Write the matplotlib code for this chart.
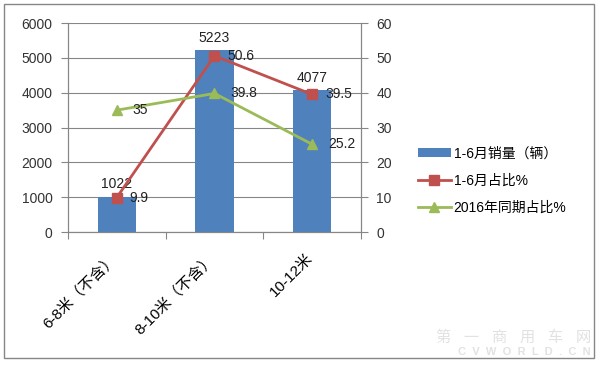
import matplotlib
matplotlib.use("Agg")
import matplotlib.pyplot as plt
import numpy as np
from matplotlib.patches import Rectangle
from matplotlib.transforms import ScaledTranslation

plt.rcParams['font.family'] = ['Liberation Sans', 'Noto Sans CJK SC', 'DejaVu Sans']

categories = ["6-8米（不含）", "8-10米（不含）", "10-12米"]
sales = [1022, 5223, 4077]
share = [9.9, 50.6, 39.5]
share_2016 = [35, 39.8, 25.2]
series_names = ["1-6月销量（辆）", "1-6月占比%", "2016年同期占比%"]

blue = "#4F81BD"
red = "#C0504D"
green = "#9BBB59"
gray = "#868686"

fig = plt.figure(figsize=(6, 3.72), dpi=100)
ax = fig.add_axes([0.113, 0.376, 0.489, 0.562])
ax2 = ax.twinx()

x = np.arange(len(categories))
bars = ax.bar(x, sales, width=0.39, color=blue, label=series_names[0], zorder=2)
ax.set_xlim(-0.5, len(categories) - 0.5)
ax.set_ylim(0, 6000)
ax.set_yticks(np.arange(0, 6001, 1000))
ax.yaxis.grid(True, color=gray, linewidth=0.8, zorder=0)
ax.set_axisbelow(True)

l1, = ax2.plot(x, share, color=red, marker='s', markersize=7, linewidth=2, label=series_names[1])
l2, = ax2.plot(x, share_2016, color=green, marker='^', markersize=7, linewidth=2, label=series_names[2])
ax2.set_ylim(0, 60)
ax2.set_yticks(np.arange(0, 61, 10))

for a in (ax, ax2):
    a.spines['top'].set_visible(False)
    a.spines['left'].set_color(gray)
    a.spines['right'].set_color(gray)
    a.spines['bottom'].set_color(gray)
    a.tick_params(axis='both', colors='#333333', labelsize=10, length=5, color=gray, direction='out')

ax.set_xticks(np.arange(-0.5, len(categories), 1.0), minor=False)
ax.set_xticklabels([])
ax.set_xticks(x, minor=True)
ax.set_xticklabels(categories, minor=True, rotation=45, ha='right', va='top',
                   rotation_mode='anchor', fontsize=11)
ax.tick_params(axis='x', which='minor', length=0, pad=14)
ax.tick_params(axis='x', which='major', length=5)
ax.tick_params(axis='y', pad=6)
ax2.tick_params(axis='y', pad=6)
for lab in ax.get_xticklabels(minor=True):
    lab.set_transform(lab.get_transform() + ScaledTranslation(-0.07, 0, fig.dpi_scale_trans))

for xi, v in zip(x, sales):
    ax.text(xi, v + 150, str(v), ha='center', va='bottom', fontsize=10, color='#222222')
for xi, v in zip(x, share):
    ax2.text(xi + 0.13, v, f"{v:g}", ha='left', va='center', fontsize=10, color='#222222')
for xi, v in zip(x, share_2016):
    ax2.text(xi + 0.16, v, f"{v:g}", ha='left', va='center', fontsize=10, color='#222222')

fig.legend(handles=[bars, l1, l2], labels=series_names, loc='upper left',
           bbox_to_anchor=(0.675, 0.64), frameon=False, fontsize=10,
           handlelength=2.4, labelspacing=0.95, handletextpad=0.2)

# outer border
fig.patches.append(Rectangle((0.006, 0.038), 0.984, 0.95, transform=fig.transFigure,
                             fill=False, edgecolor=gray, linewidth=1.0))

# watermark
fig.text(0.985, 0.092, "第   一   商   用   车   网", ha='right', va='center', fontsize=11,
         color='#e2e2e2')
fig.text(0.985, 0.055, "C  V  W  O  R  L  D  .  C  N", ha='right', va='center', fontsize=8,
         color='#e2e2e2', fontweight='bold')

fig.savefig("out.png", dpi=100)
